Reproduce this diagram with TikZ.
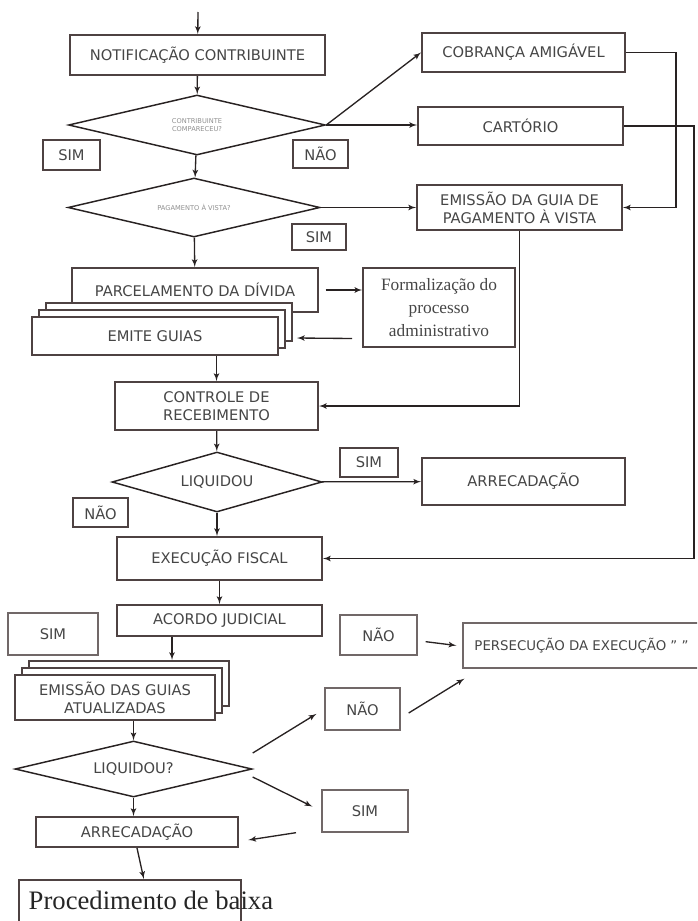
\documentclass[tikz,border=0pt]{standalone}
\usepackage{fontspec}
\setsansfont{DejaVu Sans}
\newfontfamily\serifbox{Liberation Serif}
\usetikzlibrary{shapes,arrows,calc,positioning,shadows}

\definecolor{boxline}{RGB}{78,66,66}
\definecolor{boxtext}{RGB}{70,70,70}
\definecolor{linecol}{RGB}{40,34,34}

\begin{document}
\begin{tikzpicture}[x=0.75pt, y=-0.75pt,
    procbox/.style = {shape=rectangle, draw=boxline, line width=1.5pt,
    fill=white, align=center, text=boxtext, inner sep=2pt,
    font=\sffamily\fontsize{11}{13.5}\selectfont},
    decision/.style = {shape=diamond, shape aspect=3.5, draw=linecol, line width=1.1pt,
    fill=white, inner sep=0pt, align=center, text=boxtext!60,
    font=\sffamily\fontsize{5}{6}\selectfont},
    answer/.style = {procbox, inner sep=1pt},
    softbox/.style = {procbox, draw=boxline!80, line width=1pt},
    stackbox/.style = {procbox,
    copy shadow={shadow xshift=10.5pt, shadow yshift=10.5pt, draw=boxline, line width=1.5pt},
    copy shadow={shadow xshift=5.25pt, shadow yshift=5.25pt, draw=boxline, line width=1.5pt}},
    line/.style={draw=linecol, line width=1pt, -latex'}]

    \useasboundingbox (0,0) rectangle (697,921);
    \clip (0,0) rectangle (697,921);

    \coordinate (entry) at (198,12);
    \node[procbox, minimum width=191.25pt, minimum height=30pt] (notif) at (197.5,55) {NOTIFICAÇÃO CONTRIBUINTE};
    \node[decision, minimum width=192.75pt, minimum height=45pt] (compar) at (197,125) {CONTRIBUINTE\\COMPARECEU?};
    \node[answer, minimum width=42.75pt, minimum height=22.5pt] (sima) at (71.5,155) {SIM};
    \node[answer, minimum width=41.25pt, minimum height=21pt] (naoa) at (320.5,154) {NÃO};
    \node[decision, minimum width=189pt, minimum height=44.25pt] (avista) at (194,207.5) {PAGAMENTO À VISTA?};
    \node[answer, minimum width=40.5pt, minimum height=19.5pt] (simb) at (319,237) {SIM};

    \node[procbox, minimum width=152.25pt, minimum height=29.25pt] (cobranca) at (523.5,52.5) {COBRANÇA AMIGÁVEL};
    \node[procbox, minimum width=153.75pt, minimum height=28.5pt] (cartorio) at (520.5,126) {CARTÓRIO};
    \node[procbox, minimum width=153.75pt, minimum height=33.75pt] (guia) at (519.5,207.5) {EMISSÃO DA GUIA DE\\PAGAMENTO À VISTA};

    \node[procbox, minimum width=184.5pt, minimum height=33pt] (parcel) at (195,290) {PARCELAMENTO DA DÍVIDA};
    \node[stackbox, minimum width=184.5pt, minimum height=28.5pt] (emite) at (155,336) {EMITE GUIAS};
    \node[procbox, line width=1.2pt, minimum width=114pt, minimum height=59.25pt,
      font=\serifbox\fontsize{13}{17}\selectfont] (formal) at (439,307.5) {Formalização do\\processo\\administrativo};
    \node[procbox, minimum width=152.25pt, minimum height=36pt] (controle) at (216.5,406) {CONTROLE DE\\RECEBIMENTO};

    \node[decision, minimum width=157.5pt, minimum height=45pt, text=boxtext,
      font=\sffamily\fontsize{11}{13}\selectfont] (liqa) at (217,482) {LIQUIDOU};
    \node[answer, minimum width=43.5pt, minimum height=21.75pt] (simc) at (369,462.5) {SIM};
    \node[procbox, minimum width=152.25pt, minimum height=35.25pt] (arreca) at (523.5,481.5) {ARRECADAÇÃO};
    \node[answer, minimum width=41.25pt, minimum height=21.75pt] (naob) at (100.5,512.5) {NÃO};
    \node[procbox, minimum width=153.75pt, minimum height=32.25pt] (exec) at (219.5,558.5) {EXECUÇÃO FISCAL};
    \node[procbox, minimum width=153.75pt, minimum height=23.25pt] (acordo) at (219.5,620.5) {ACORDO JUDICIAL};

    \node[softbox, minimum width=67.5pt, minimum height=31.5pt] (simd) at (53,634) {SIM};
    \node[stackbox, minimum width=150pt, minimum height=33.75pt] (emissao) at (115,697.5) {EMISSÃO DAS GUIAS\\ATUALIZADAS};
    \node[softbox, minimum width=57.75pt, minimum height=30pt] (naoc) at (378.5,635) {NÃO};
    \node[softbox, minimum width=177.75pt, minimum height=33.75pt,
      font=\sffamily\fontsize{10}{12}\selectfont] (persec) at (581.5,645.5) {PERSECUÇÃO DA EXECUÇÃO " "};
    \node[softbox, minimum width=56.25pt, minimum height=31.5pt] (naod) at (362.5,709) {NÃO};

    \node[decision, minimum width=177.75pt, minimum height=42pt, text=boxtext,
      font=\sffamily\fontsize{11}{13}\selectfont] (liqb) at (133.5,769) {LIQUIDOU?};
    \node[procbox, minimum width=151.5pt, minimum height=22.5pt] (arrecb) at (137,832) {ARRECADAÇÃO};
    \node[softbox, minimum width=64.5pt, minimum height=31.5pt] (sime) at (365,811) {SIM};
    \node[procbox, line width=1.2pt, anchor=north west, minimum width=166.5pt, minimum height=45pt] (baixa) at (18,879) {};
    \node[anchor=west, font=\serifbox\fontsize{20}{24}\selectfont, text=black!85] (baixatxt) at (24,900) {Procedimento de baixa};

    \coordinate (drop) at ([xshift=-35.6pt]acordo.south);

    \draw[line] (entry) -- (notif);
    \draw[line] (notif) -- (compar);
    \draw[line] (compar.east) -- (cobranca.west);
    \draw[line] (compar.east) -- (compar.east -| cartorio.west);
    \draw[line] (compar) -- (avista);
    \draw[line] (avista.east) -- (guia.west);
    \draw[line] (cobranca.east) -- ++(50,0) |- (guia.east);
    \draw[line] (cartorio.east) -- ++(70,0) |- (exec.east);

    \draw[line] (avista) -- (parcel);
    \draw[line, shorten <=5pt] (parcel.east) -- (parcel.east -| formal.west);
    \draw[line] ([xshift=-7.5pt, yshift=-23.25pt]formal.west) -- ([xshift=13.5pt, yshift=-1.5pt]emite.east);
    \draw[line] (controle.north |- emite.south) -- (controle.north);
    \draw[line] (guia.south) |- (controle.east);
    \draw[line] (controle) -- (liqa);
    \draw[line] (liqa) -- (arreca);
    \draw[line] (liqa.south) -- (liqa.south |- exec.north);
    \draw[line] (exec) -- (acordo);
    \draw[line, shorten >=10.5pt] (drop) -- (drop |- emissao.north);

    \draw[line] ([xshift=6pt, yshift=-5pt]naoc.east) -- ([xshift=-4.5pt]persec.west);
    \draw[line, shorten >=7pt] ([yshift=12pt]liqb.east) -- (naod.west);
    \draw[line] ([xshift=6pt, yshift=-3pt]naod.east) -- ([xshift=1.5pt, yshift=-7.5pt]persec.south west);
    \draw[line] (liqb.north |- emissao.south) -- (liqb.north);
    \draw[line, shorten >=7.5pt] ([yshift=-6pt]liqb.east) -- (sime.west);
    \draw[line] ([xshift=-19pt]sime.south west) -- ([xshift=7pt, yshift=-6pt]arrecb.east);
    \draw[line] (liqb.south) -- (liqb.south |- arrecb.north);
    \draw[line] (arrecb.south) -- ([xshift=10.5pt]baixa.north);
\end{tikzpicture}
\end{document}
